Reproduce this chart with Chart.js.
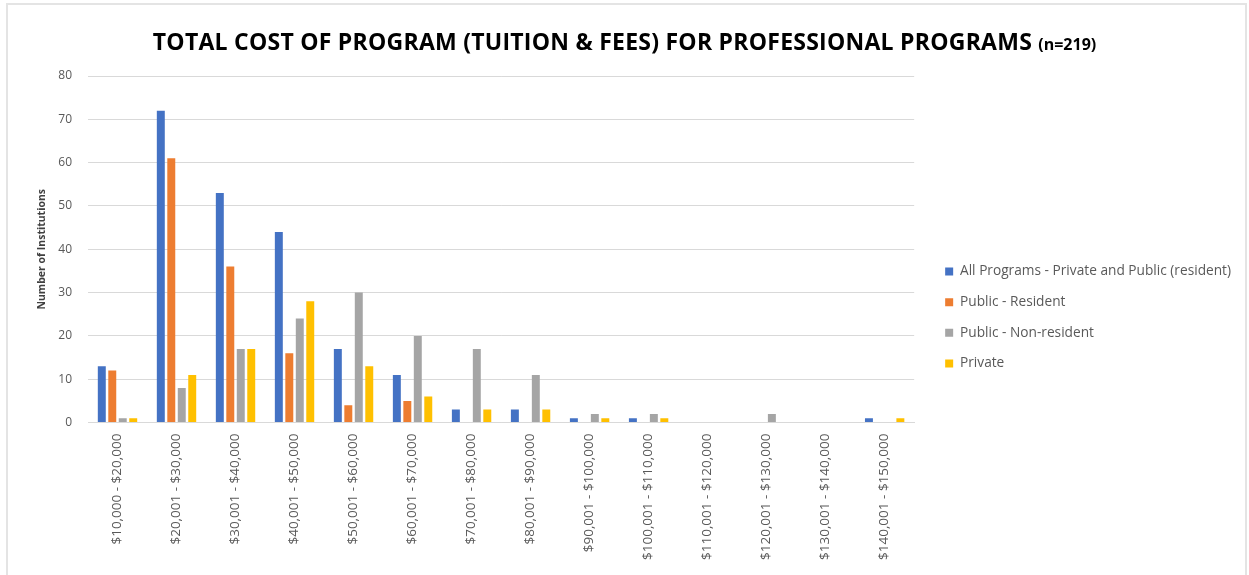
<!DOCTYPE html>
<html>
<head>
<meta charset="utf-8">
<script src="https://cdn.jsdelivr.net/npm/chart.js@4.4.1/dist/chart.umd.min.js"></script>
<style>
  html, body { margin: 0; padding: 0; background: #fff; }
  #wrap { position: relative; width: 1249px; height: 575px; overflow: hidden; }
  #frame { position: absolute; left: 6px; top: 3px; width: 1241px; height: 580px; border: 2px solid #e4e4e4; box-sizing: border-box; }
  #title { position: absolute; left: 0; width: 1249px; top: 25px; text-align: center; font-family: "Open Sans", sans-serif; font-weight: 700; font-size: 23px; line-height: 32px; color: #000; white-space: nowrap; letter-spacing: 0.25px; }
  #title small { font-size: 16px; letter-spacing: 0; }
  #cv { position: absolute; left: 0; top: 0; }
</style>
</head>
<body>
<div id="wrap">
  <div id="frame"></div>
  <canvas id="cv" width="1249" height="575"></canvas>
  <div id="title">TOTAL COST OF PROGRAM (TUITION &amp; FEES) FOR PROFESSIONAL PROGRAMS <small>(n=219)</small></div>
</div>
<script>
const categories = ["$10,000 - $20,000", "$20,001 - $30,000", "$30,001 - $40,000", "$40,001 - $50,000", "$50,001 - $60,000", "$60,001 - $70,000", "$70,001 - $80,000", "$80,001 - $90,000", "$90,001 - $100,000", "$100,001 - $110,000", "$110,001 - $120,000", "$120,001 - $130,000", "$130,001 - $140,000", "$140,001 - $150,000"];
const allPrograms = [13, 72, 53, 44, 17, 11, 3, 3, 1, 1, 0, 0, 0, 1];
const publicResident = [12, 61, 36, 16, 4, 5, 0, 0, 0, 0, 0, 0, 0, 0];
const publicNonResident = [1, 8, 17, 24, 30, 20, 17, 11, 2, 2, 0, 2, 0, 0];
const privatePrograms = [1, 11, 17, 28, 13, 6, 3, 3, 1, 1, 0, 0, 0, 1];
const seriesNames = ["All Programs - Private and Public (resident)", "Public - Resident", "Public - Non-resident", "Private"];
const yTicks = [0, 10, 20, 30, 40, 50, 60, 70, 80];

const colors = ["#4472C4", "#ED7D31", "#A5A5A5", "#FFC000"];
const seriesData = [allPrograms, publicResident, publicNonResident, privatePrograms];

const LEGEND_GAP = 14;
const LEGEND_SHIFT_Y = -6;
const legendGap = {
  id: 'legendGap',
  afterInit(chart) {
    const lg = chart.legend;
    if (!lg) return;
    const origFit = lg.fit.bind(lg);
    lg.fit = function () { origFit(); this.width += LEGEND_GAP; };
    const origDraw = lg.draw.bind(lg);
    lg.draw = function () {
      this.left += LEGEND_GAP; this.top += LEGEND_SHIFT_Y; this.bottom += LEGEND_SHIFT_Y;
      origDraw();
      this.left -= LEGEND_GAP; this.top -= LEGEND_SHIFT_Y; this.bottom -= LEGEND_SHIFT_Y;
    };
  }
};

new Chart(document.getElementById('cv'), {
  type: 'bar',
  data: {
    labels: categories,
    datasets: seriesData.map((d, i) => ({
      label: seriesNames[i],
      data: d,
      backgroundColor: colors[i],
      borderWidth: 0,
      categoryPercentage: 0.71,
      barPercentage: 0.76
    }))
  },
  options: {
    responsive: false,
    animation: false,
    layout: { padding: { top: 76, left: 32, right: 8, bottom: 4 } },
    plugins: {
      title: { display: false },
      tooltip: { enabled: false },
      legend: {
        position: 'right',
        maxWidth: 400,
        labels: {
          boxWidth: 8, boxHeight: 8, padding: 17,
          color: '#595959',
          font: { family: '"Open Sans", sans-serif', size: 13.7 }
        }
      }
    },
    scales: {
      x: {
        grid: { display: false, drawTicks: false },
        border: { color: '#d9d9d9' },
        ticks: {
          minRotation: 90, maxRotation: 90, autoSkip: false,
          color: '#595959', padding: 11,
          font: { family: '"Open Sans", sans-serif', size: 13.5 }
        }
      },
      y: {
        min: 0, max: 80,
        afterBuildTicks(axis) { axis.ticks = yTicks.map(v => ({ value: v })); },
        afterFit(scale) { scale.width = 56; },
        grid: { color: '#d9d9d9', drawTicks: false },
        border: { display: false },
        ticks: {
          color: '#595959', padding: 16,
          font: { family: '"Open Sans", sans-serif', size: 12 }
        },
        title: {
          display: true, text: 'Number of Institutions', color: '#404040',
          font: { family: '"Open Sans", sans-serif', size: 10.5, weight: 'bold' }
        }
      }
    }
  },
  plugins: [legendGap]
});
</script>
</body>
</html>
